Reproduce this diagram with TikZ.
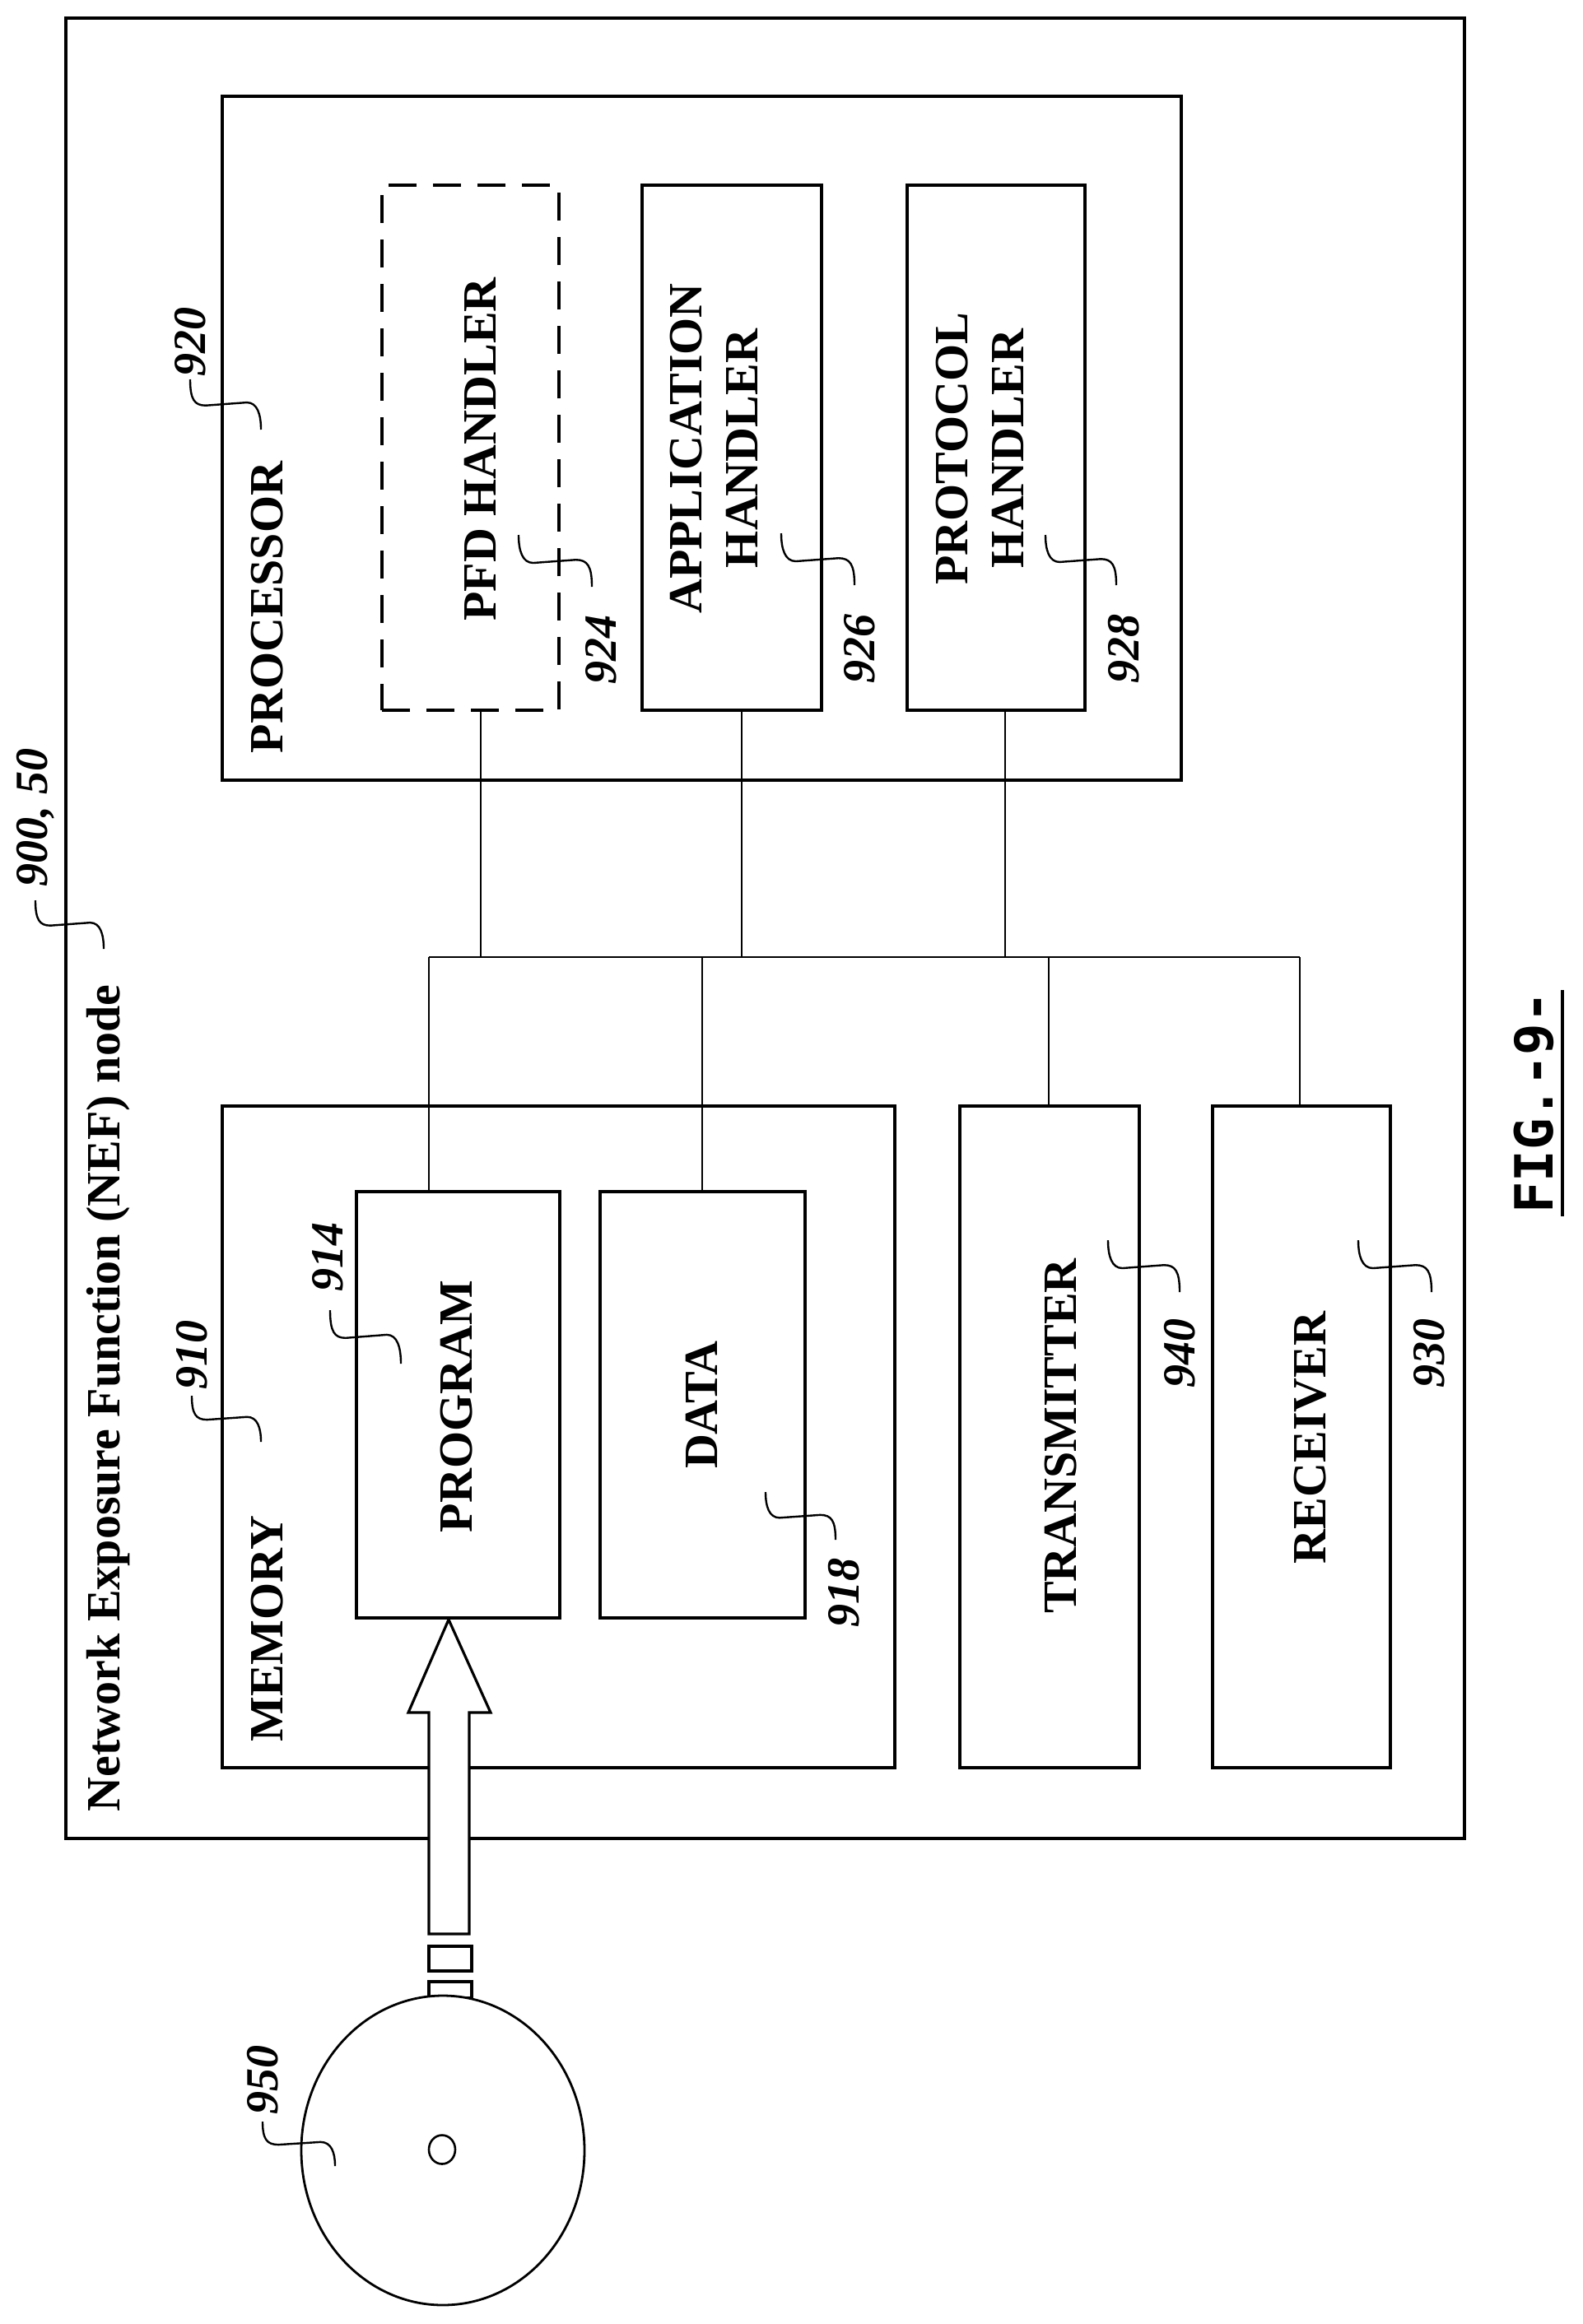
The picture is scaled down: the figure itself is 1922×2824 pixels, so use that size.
\documentclass[tikz,border=0pt]{standalone}
\usepackage{fontspec}
\usetikzlibrary{shapes.geometric}
\setmainfont{Liberation Serif}
\newfontfamily\figfont{DejaVu Sans Mono}
\begin{document}
\begin{tikzpicture}[x=1pt,y=-1pt,
  box/.style={draw,line width=3.6pt,inner sep=0pt,outer sep=0pt,fill=white},
  wire/.style={line width=2.6pt},
  lbl/.style={rotate=90,font=\bfseries\fontsize{58}{68}\selectfont,align=center,inner sep=0pt},
  num/.style={rotate=90,font=\bfseries\itshape\fontsize{56}{60}\selectfont,inner sep=0pt},
  ldr/.style={line width=2.4pt}]
\newcommand\ldrpath[4]{\draw[ldr] (#1,#2) .. controls (#1,{#2+0.4*#4}) and ({#1+0.06*#3},{#2+0.52*#4}) .. ({#1+0.22*#3},{#2+0.52*#4}) -- ({#1+0.8*#3},{#2+0.46*#4}) .. controls ({#1+0.95*#3},{#2+0.46*#4}) and ({#1+#3},{#2+0.7*#4}) .. ({#1+#3},{#2+#4});}
\useasboundingbox (0,0) rectangle (1922,2824);
% boxes
\node[box,minimum width=1699pt,minimum height=2212pt] (outer) at (929.5,1128) {};
\node[box,minimum width=1165pt,minimum height=831pt] (proc) at (852.5,532.5) {};
\node[box,dash pattern=on 34pt off 20pt,minimum width=215pt,minimum height=638pt] (pfd) at (571.5,544) {};
\node[box,minimum width=218pt,minimum height=638pt] (app) at (889,544) {};
\node[box,minimum width=216pt,minimum height=638pt] (prot) at (1210,544) {};
\node[box,minimum width=817pt,minimum height=804pt] (mem) at (678.5,1746) {};
\node[box,minimum width=247pt,minimum height=518pt] (prog) at (556.5,1707) {};
\node[box,minimum width=249pt,minimum height=518pt] (data) at (853.5,1707) {};
\node[box,minimum width=218pt,minimum height=804pt] (tx) at (1275,1746) {};
\node[box,minimum width=216pt,minimum height=804pt] (rx) at (1581,1746) {};
% bus
\coordinate (bA) at (584,1163);
\coordinate (bB) at (901,1163);
\coordinate (bC) at (1221,1163);
\coordinate (bP) at (521,1163);
\coordinate (bD) at (853,1163);
\coordinate (bT) at (1274,1163);
\coordinate (bR) at (1579,1163);
\draw[wire] (bP) -- (bR);
\draw[wire] (bA) -- (bA |- pfd.south);
\draw[wire] (bB) -- (bB |- app.south);
\draw[wire] (bC) -- (bC |- prot.south);
\draw[wire] (bP) -- (bP |- prog.north);
\draw[wire] (bD) -- (bD |- data.north);
\draw[wire] (bT) -- (bT |- tx.north);
\draw[wire] (bR) -- (bR |- rx.north);
% texts
\node[lbl] (nef) at (132,1699) {Network Exposure Function (NEF) node};
\node[lbl] (tproc) at (325,738) {PROCESSOR};
\node[lbl] (tmem) at (325,1979) {MEMORY};
\node[lbl] (tpfd) at (583,546) {PFD HANDLER};
\node[lbl] (tapp) at (867,545) {APPLICATION\\HANDLER};
\node[lbl] (tprot) at (1190,545) {PROTOCOL\\HANDLER};
\node[lbl] (tprog) at (555,1709) {PROGRAM};
\node[lbl] (tdata) at (852,1707) {DATA};
\node[lbl] (ttx) at (1289,1745) {TRANSMITTER};
\node[lbl] (trx) at (1592,1747) {RECEIVER};
% reference numerals
\node[num] (n920) at (231,415) {920};
\node[num] (n924) at (730,789) {924};
\node[num] (n926) at (1044,788) {926};
\node[num] (n928) at (1365,788) {928};
\node[num] (n900) at (43,993) {900, 50};
\node[num] (n910) at (233,1646) {910};
\node[num] (n914) at (398,1527) {914};
\node[num] (n918) at (1025,1935) {918};
\node[num] (n940) at (1433,1644) {940};
\node[num] (n930) at (1736,1644) {930};
\node[num] (n950) at (319,2527) {950};
\ldrpath{231}{461}{86}{61}
\ldrpath{719}{713}{-89}{-63}
\ldrpath{1038}{711}{-89}{-63}
\ldrpath{1356}{711}{-86}{-61}
\ldrpath{43}{1094}{83}{59}
\ldrpath{233}{1696}{84}{56}
\ldrpath{401}{1592}{86}{65}
\ldrpath{1015}{1871}{-85}{-58}
\ldrpath{1433}{1570}{-87}{-63}
\ldrpath{1739}{1570}{-89}{-63}
% disc and arrow
\draw[line width=3.2pt,fill=white] (521,2365) rectangle (573,2395);
\draw[line width=3.2pt,fill=white] (521,2408) rectangle (573,2428);
\node[draw,ellipse,line width=2.8pt,fill=white,minimum width=344pt,minimum height=376pt,inner sep=0pt] (disc) at (538,2613) {};
\node[draw,ellipse,line width=2.6pt,minimum width=32pt,minimum height=35pt,inner sep=0pt] (hole) at (537,2612) {};
\ldrpath{319}{2578}{88}{54}
\draw[line width=3.2pt,fill=white,line join=miter] (521,2350) -- (521,2081) -- (496,2081) -- (545,1968) -- (596,2081) -- (570,2081) -- (570,2350) -- cycle;
% figure label
\node[rotate=90,font=\figfont\bfseries\fontsize{64}{70}\selectfont,inner sep=0pt] (fig) at (1863,1340) {FIG.-9-};
\draw[line width=4pt] (1898,1203) -- (1898,1478);
\end{tikzpicture}
\end{document}
